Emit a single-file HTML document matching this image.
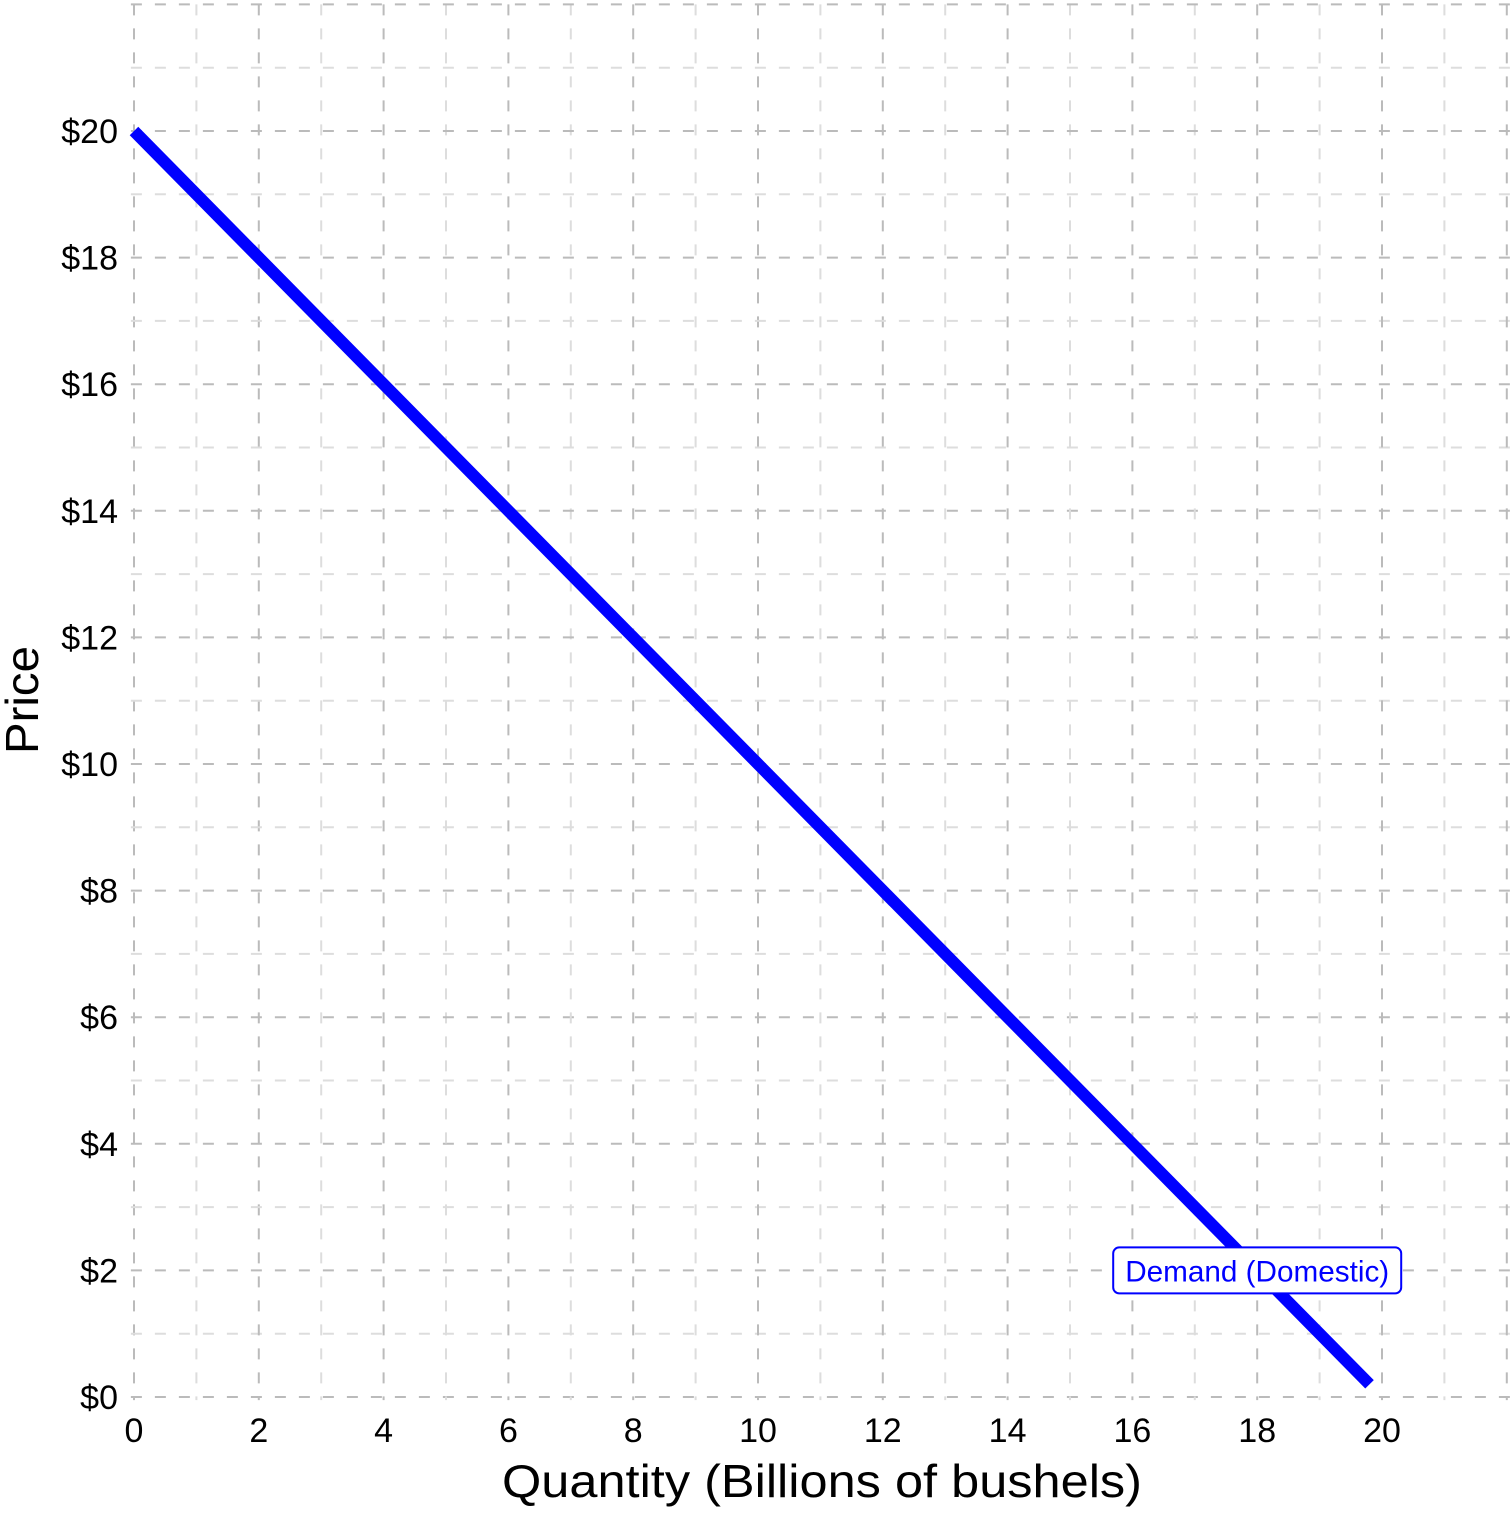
<!DOCTYPE html>
<html><head><meta charset="utf-8"><style>
body{margin:0;background:#fff}
svg text{font-family:"Liberation Sans",sans-serif}
</style></head><body>
<svg id="chart" width="1512" height="1512" viewBox="0 0 1512 1512" xmlns="http://www.w3.org/2000/svg">
<g id="grid"></g>
<g id="ticks"></g>
<g id="series"></g>
<text x="822" y="1497" text-anchor="middle" font-size="46" textLength="640" lengthAdjust="spacingAndGlyphs">Quantity (Billions of bushels)</text>
<text transform="translate(38,700) rotate(-90)" text-anchor="middle" font-size="46" textLength="108" lengthAdjust="spacingAndGlyphs">Price</text>
</svg>
<script>
const xTicks=[0,2,4,6,8,10,12,14,16,18,20];
const yTicks=[0,2,4,6,8,10,12,14,16,18,20];
const demandQ=[0,19.8];
const demandP=[20,0.2];
const labelQ=18, labelP=2, labelText="Demand (Domestic)";
const NS="http://www.w3.org/2000/svg";
const X=q=>134+q*62.4;
const Y=p=>1397-p*63.3;
const grid=document.getElementById('grid'),ticks=document.getElementById('ticks'),series=document.getElementById('series');
function mk(tag,attrs,parent){const e=document.createElementNS(NS,tag);for(const k in attrs)e.setAttribute(k,attrs[k]);parent.appendChild(e);return e;}
for(let v=0;v<=22;v++){
  const major=v%2===0;
  const col=major?'#bbbbbb':'#dddddd';
  const gv=mk('line',{x1:X(v),x2:X(v),y1:Y(22),y2:Y(-0.05),stroke:col,'stroke-width':2,'stroke-dasharray':'11 13'},grid);
  
  
  const gh=mk('line',{x1:X(-0.05),x2:1512,y1:Y(v),y2:Y(v),stroke:col,'stroke-width':2,'stroke-dasharray':'11 13'},grid);
  
  
}
xTicks.forEach(v=>{
  const t=mk('text',{x:X(v),y:1442,'text-anchor':'middle','font-size':34},ticks);
  t.textContent=v;
  
  
});
yTicks.forEach(v=>{
  const t=mk('text',{x:118,y:Y(v)+12,'text-anchor':'end','font-size':34},ticks);
  t.textContent='$'+v;
  
  
});
const pts=demandQ.map((q,i)=>X(q)+','+Y(demandP[i])).join(' ');
const line=mk('polyline',{points:pts,fill:'none',stroke:'#0000ff','stroke-width':12},series);


const g=mk('g',{},series);


const cx=X(labelQ),cy=Y(labelP);
mk('rect',{x:cx-144,y:cy-23,width:288,height:46,rx:6,fill:'#fff',stroke:'#0000ff','stroke-width':2},g);
const lt=mk('text',{x:cx,y:cy+11,'text-anchor':'middle','font-size':30,fill:'#0000ff',textLength:264,lengthAdjust:'spacingAndGlyphs'},g);
lt.textContent=labelText;
</script>
</body></html>
